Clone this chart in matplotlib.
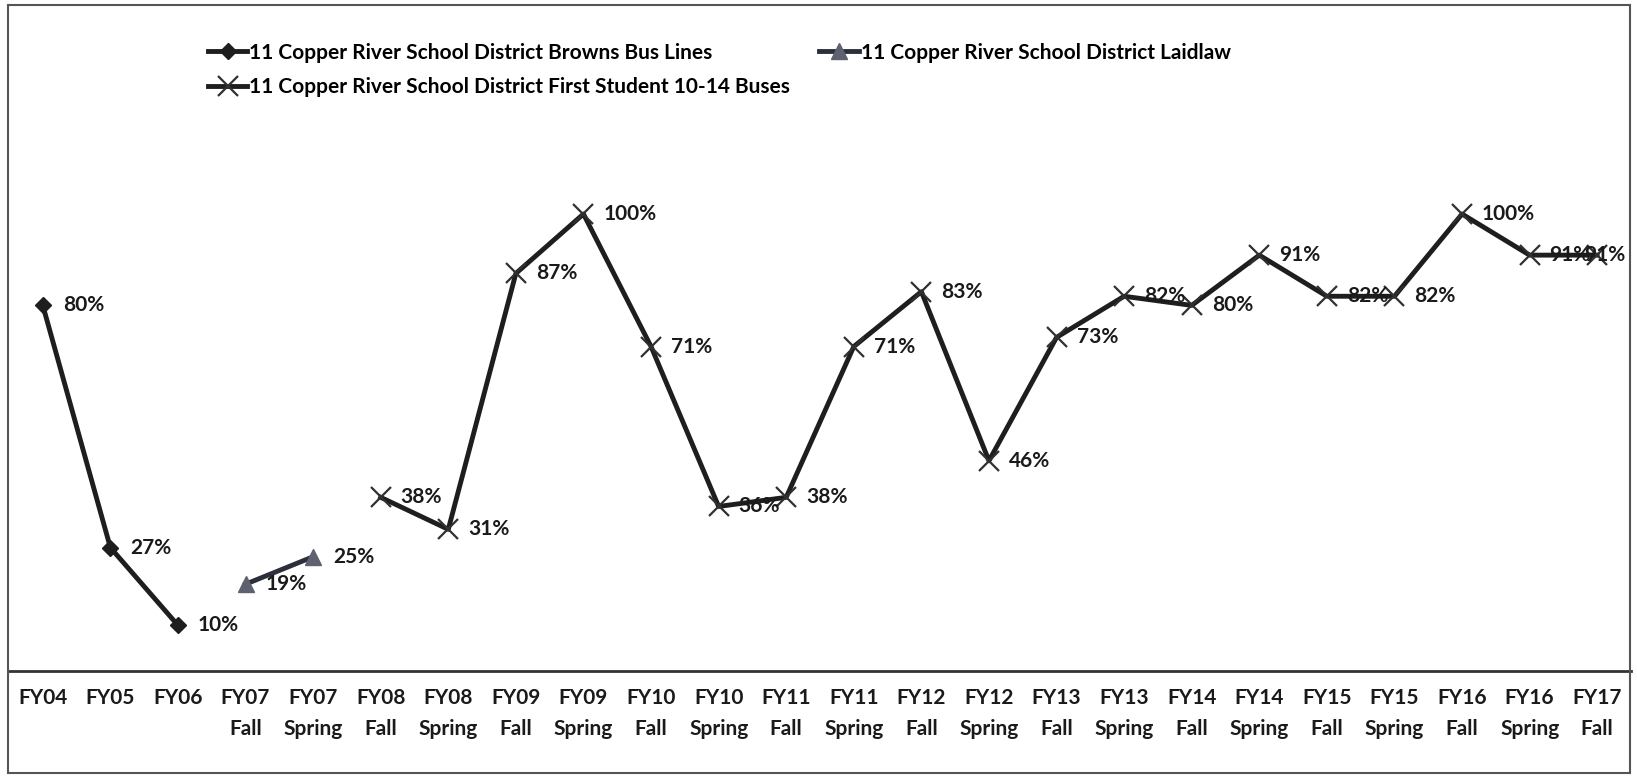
import matplotlib
matplotlib.use("Agg")
import matplotlib.pyplot as plt
import numpy as np
from matplotlib.patches import Rectangle

categories = ["FY04", "FY05", "FY06", "FY07\nFall", "FY07\nSpring", "FY08\nFall",
              "FY08\nSpring", "FY09\nFall", "FY09\nSpring", "FY10\nFall", "FY10\nSpring",
              "FY11\nFall", "FY11\nSpring", "FY12\nFall", "FY12\nSpring", "FY13\nFall",
              "FY13\nSpring", "FY14\nFall", "FY14\nSpring", "FY15\nFall", "FY15\nSpring",
              "FY16\nFall", "FY16\nSpring", "FY17\nFall"]
n = len(categories)
browns = [80, 27, 10] + [None] * 21
laidlaw = [None] * 3 + [19, 25] + [None] * 19
first_student = [None] * 5 + [38, 31, 87, 100, 71, 36, 38, 71, 83, 46, 73, 82, 80,
                              91, 82, 82, 100, 91, 91]

series_names = ["11 Copper River School District Browns Bus Lines",
                "11 Copper River School District Laidlaw",
                "11 Copper River School District First Student 10-14 Buses"]

plt.rcParams['font.family'] = ['Lato', 'DejaVu Sans']
W, H = 1637, 777
fig = plt.figure(figsize=(W / 100, H / 100), dpi=100)
fig.patch.set_facecolor('white')
# frame
fig.add_artist(Rectangle((8 / W, 4 / H), (1630 - 8) / W, (772 - 4) / H, transform=fig.transFigure,
                         fill=False, edgecolor='#555555', lw=1.5))

y0, y100 = 671, 214
ppu = (y0 - y100) / 100.0
top_px = 110
ymax = (y0 - top_px) / ppu
ax = fig.add_axes([9 / W, (H - y0) / H, (1631 - 9) / W, (y0 - top_px) / H])
ax.set_xlim(-0.5, n - 0.5)
ax.set_ylim(0, ymax)
ax.set_facecolor('none')
for s in ['top', 'right', 'left']:
    ax.spines[s].set_visible(False)
ax.spines['bottom'].set_color('#333333')
ax.spines['bottom'].set_linewidth(2)
ax.set_yticks([])
ax.set_xticks(range(n))
ax.set_xticklabels(categories, fontsize=15, fontweight='bold', color='#1a1a1a', linespacing=1.7)
ax.tick_params(axis='x', length=0, pad=12)


def to_arr(v):
    return np.array([np.nan if x is None else x for x in v], dtype=float)


x = np.arange(n)
lc = '#1e1e1e'
h1, = ax.plot(x, to_arr(browns), color=lc, lw=3.5, marker='D', ms=8, mfc=lc, mec=lc)
h2, = ax.plot(x, to_arr(laidlaw), color='#2b2f3a', lw=3.5, marker='^', ms=11, mfc='#5d6170', mec='#5d6170')
h3, = ax.plot(x, to_arr(first_student), color=lc, lw=3.5, marker='x', ms=14, mew=1.6, mfc=lc, mec='#303030')

for vals in (browns, laidlaw, first_student):
    for i, v in enumerate(vals):
        if v is None:
            continue
        if i == n - 1:
            ax.annotate(f"{v}%", (i, v), xytext=(28, 0), textcoords='offset pixels',
                        ha='right', va='center', fontsize=15, fontweight='bold', color='#1a1a1a')
        else:
            ax.annotate(f"{v}%", (i, v), xytext=(20, 0), textcoords='offset pixels',
                        ha='left', va='center', fontsize=15, fontweight='bold', color='#1a1a1a')

leg = fig.legend([h1, h3, h2], [series_names[0], series_names[2], series_names[1]],
                 ncol=2, loc='upper left', bbox_to_anchor=(189 / W, 1 - 24 / H),
                 frameon=False, handlelength=1.9, handletextpad=0.1,
                 columnspacing=1.4, labelspacing=0.7, prop={'weight': 'bold', 'size': 15})

fig.savefig('out.png', dpi=100, facecolor='white')
